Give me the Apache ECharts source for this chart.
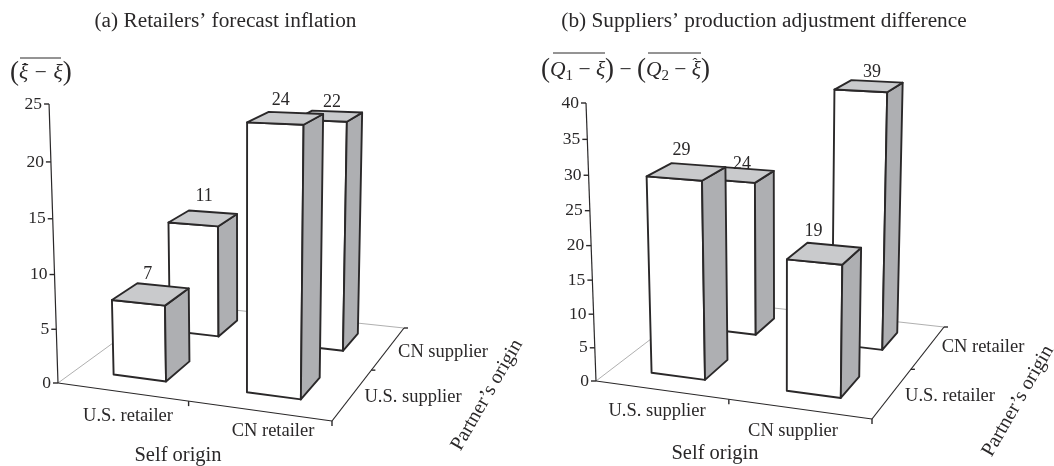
<!DOCTYPE html>
<html>
<head>
<meta charset="utf-8">
<script src="https://cdn.jsdelivr.net/npm/echarts@6/dist/echarts.min.js"></script>
<style>html,body{margin:0;background:#fff}#main{width:1054px;height:466px}</style>
</head>
<body>
<div id="main"></div>
<script>
// chart data (labels printed on the bars are rounded)
var selfA = ['U.S. retailer', 'CN retailer'];
var partnerA = ['U.S. supplier', 'CN supplier'];
var frontA = [7, 23.5];
var backA = [11, 21.6];
var ticksA = [0, 5, 10, 15, 20, 25];

var selfB = ['U.S. supplier', 'CN supplier'];
var partnerB = ['U.S. retailer', 'CN retailer'];
var frontB = [29, 19];
var backB = [24, 38.7];
var ticksB = [0, 5, 10, 15, 20, 25, 30, 35, 40];

var INK = '#2a2829', SERIF = '"Liberation Serif", serif';
var SIDE = '#aeafb2', TOP = '#c9cacc', FLOOR = '#b0b0b0';

// where the box sits on the page: floor corners, top of value axis, vanishing point of the verticals
var viewA = {
    a: [58, 383], b: [332, 421], c: [404, 328], d: [168, 303], top: [49, 104], vp: [244, 6183],
    selfPos: [128, 416], selfPos2: [273, 431], selfName: [178, 456],
    partnerPos: [[413, 397], [443, 352]], partnerName: [487, 395],
    nudge: [[[-1, 2], [-3, 4]], [[3, 0], [5, 8]]]   // bar label offsets: [partner][self]
};
var viewB = {
    a: [596, 381], b: [872, 419], c: [944, 327], d: [702, 300], top: [586, 103], vp: [783, 5581],
    selfPos: [657, 411], selfPos2: [793, 431], selfName: [715, 454],
    partnerPos: [[950, 396], [983, 347]], partnerName: [1018, 401],
    nudge: [[[-3, 0], [-9, 0]], [[5, 11], [5, 8]]]
};
// bar footprint on the floor, in axis units (two cells, 0..2)
var barX = [[0.30, 0.71], [1.315, 1.70]];
var barD = [[0.29, 0.73], [1.33, 1.75]];

function makeCamera(v) {
    var x0 = v.a[0], y0 = v.a[1], x1 = v.b[0], y1 = v.b[1], x2 = v.c[0], y2 = v.c[1], x3 = v.d[0], y3 = v.d[1];
    var sx = x0 - x1 + x2 - x3, sy = y0 - y1 + y2 - y3;
    var dx1 = x1 - x2, dx2 = x3 - x2, dy1 = y1 - y2, dy2 = y3 - y2;
    var den = dx1 * dy2 - dx2 * dy1;
    var g = (sx * dy2 - dx2 * sy) / den, h = (dx1 * sy - sx * dy1) / den;
    var a = x1 - x0 + g * x1, b = x3 - x0 + h * x3, d = y1 - y0 + g * y1, e = y3 - y0 + h * y3;
    var w = (v.top[1] - y0) / (v.vp[1] - v.top[1]);
    // u along self axis, t along partner axis, z up the value axis, all 0..1
    return function (u, t, z) {
        var W = g * u + h * t + 1 + w * z;
        return [
            (a * u + b * t + x0 + w * v.vp[0] * z) / W,
            (d * u + e * t + y0 + w * v.vp[1] * z) / W
        ];
    };
}

function scaler(params, api) {
    var r = params.coordSys;
    return {
        u: function (val) { return (api.coord([val, 0])[0] - r.x) / r.width; },
        z: function (val) { return (r.y + r.height - api.coord([0, val])[1]) / r.height; }
    };
}

function poly(points, fill) {
    return {
        type: 'polygon',
        shape: { points: points },
        style: { fill: fill, stroke: INK, lineWidth: 1.9, lineJoin: 'round' }
    };
}

function seg(p, q, color, lineWidth) {
    return {
        type: 'line',
        shape: { x1: p[0], y1: p[1], x2: q[0], y2: q[1] },
        style: { stroke: color, lineWidth: lineWidth }
    };
}

function txt(s, x, y, size, extra) {
    var t = {
        type: 'text', x: x, y: y,
        style: { text: s, font: size + 'px ' + SERIF, fill: INK, align: 'center', verticalAlign: 'middle' }
    };
    if (extra) { for (var k in extra) { if (k === 'rotation') { t.rotation = extra[k]; } else { t.style[k] = extra[k]; } } }
    return t;
}

function barSeries(idx, view, front, back) {
    var cam = makeCamera(view);
    var data = [];
    // back row first so the front row paints over it
    back.forEach(function (val, i) { data.push([i, 1, val]); });
    front.forEach(function (val, i) { data.push([i, 0, val]); });
    return {
        type: 'custom', xAxisIndex: idx, yAxisIndex: idx, z: 3, clip: false, silent: true,
        data: data,
        renderItem: function (params, api) {
            var s = scaler(params, api);
            var i = api.value(0), j = api.value(1), val = api.value(2);
            var x0 = s.u(barX[i][0]), x1 = s.u(barX[i][1]);
            var d0 = s.u(barD[j][0]), d1 = s.u(barD[j][1]);
            var top = s.z(val);
            var fl = cam(x0, d0, 0), fr = cam(x1, d0, 0), br = cam(x1, d1, 0);
            var tfl = cam(x0, d0, top), tfr = cam(x1, d0, top), tbr = cam(x1, d1, top), tbl = cam(x0, d1, top);
            var cx = (tfl[0] + tfr[0] + tbr[0] + tbl[0]) / 4, cy = (tfl[1] + tfr[1] + tbr[1] + tbl[1]) / 4;
            var n = view.nudge[j][i];
            return {
                type: 'group',
                children: [
                    poly([fl, fr, tfr, tfl], '#fff'),
                    poly([fr, br, tbr, tfr], SIDE),
                    poly([tfl, tfr, tbr, tbl], TOP),
                    txt(String(Math.round(val)), cx - 2 + n[0], cy - 22 + n[1], 18)
                ]
            };
        }
    };
}

function frameSeries(idx, view, selfNames, partnerNames, ticks) {
    var cam = makeCamera(view);
    return {
        type: 'custom', xAxisIndex: idx, yAxisIndex: idx, z: 2, clip: false, silent: true,
        data: [[0, 0]],
        renderItem: function (params, api) {
            var s = scaler(params, api);
            var kids = [];
            // floor edges hidden behind the bars
            kids.push(seg(cam(0, 0, 0), cam(0, 1, 0), FLOOR, 1));
            kids.push(seg(cam(0, 1, 0), cam(1, 1, 0), FLOOR, 1));
            // front edges and value axis
            kids.push(seg(cam(0, 0, 0), cam(1, 0, 0), INK, 1.2));
            kids.push(seg(cam(1, 0, 0), cam(1, 1, 0), INK, 1.2));
            kids.push(seg(cam(0, 0, 0), cam(0, 0, 1), INK, 1.2));
            ticks.forEach(function (t) {
                var p = cam(0, 0, s.z(t));
                kids.push(seg([p[0] - 5, p[1]], p, INK, 1.4));
                kids.push(txt(String(t), p[0] - 7, p[1], 17.5, { align: 'right' }));
            });
            [1, 2].forEach(function (k) {
                var p = cam(s.u(k), 0, 0);
                kids.push(seg(p, [p[0], p[1] + 5], INK, 1.4));
                var q = cam(1, s.u(k), 0);
                kids.push(seg(q, [q[0] + 4, q[1]], INK, 1.4));
            });
            kids.push(txt(selfNames[0], view.selfPos[0], view.selfPos[1], 18.5));
            kids.push(txt(selfNames[1], view.selfPos2[0], view.selfPos2[1], 18.5));
            partnerNames.forEach(function (n, i) {
                kids.push(txt(n, view.partnerPos[i][0], view.partnerPos[i][1], 18.5));
            });
            kids.push(txt('Self origin', view.selfName[0], view.selfName[1], 20.5));
            kids.push(txt('Partner’s origin', view.partnerName[0], view.partnerName[1], 20, { rotation: 60 * Math.PI / 180 }));
            return { type: 'group', children: kids };
        }
    };
}

function hiddenAxis(grid, max) {
    return { type: 'value', gridIndex: grid, min: 0, max: max, show: false };
}

var mathRich = {
    p: { font: '300 27px ' + SERIF, fill: INK },
    i: { font: 'italic 21.5px ' + SERIF, fill: INK },
    m: { font: '21.5px ' + SERIF, fill: INK },
    s: { font: '15px ' + SERIF, fill: INK, verticalAlign: 'bottom', padding: [8, 0, 0, 0] }
};

var option = {
    animation: false,
    backgroundColor: '#fff',
    title: [
        { text: '(a) Retailers’ forecast inflation', left: 220.5, top: 6, textAlign: 'center',
          textStyle: { fontFamily: SERIF, fontSize: 21.3, fontWeight: 'normal', color: INK } },
        { text: '(b) Suppliers’ production adjustment difference', left: 759, top: 6, textAlign: 'center',
          textStyle: { fontFamily: SERIF, fontSize: 21.3, fontWeight: 'normal', color: INK } }
    ],
    grid: [
        { left: 58, top: 104, width: 274, height: 279 },
        { left: 596, top: 103, width: 276, height: 278 }
    ],
    xAxis: [hiddenAxis(0, 2), hiddenAxis(1, 2)],
    yAxis: [hiddenAxis(0, 25), hiddenAxis(1, 40)],
    series: [
        frameSeries(0, viewA, selfA, partnerA, ticksA),
        barSeries(0, viewA, frontA, backA),
        frameSeries(1, viewB, selfB, partnerB, ticksB),
        barSeries(1, viewB, frontB, backB)
    ],
    graphic: [
        { type: 'text', x: 10, y: 73, style: { text: '{p|(}{i|ξ − ξ}{p|)}', rich: mathRich, verticalAlign: 'middle' } },
        { type: 'text', x: 25, y: 69, style: { text: 'ˆ', font: '15px ' + SERIF, fill: INK, align: 'center', verticalAlign: 'middle' } },
        { type: 'line', shape: { x1: 20, y1: 58, x2: 61, y2: 58 }, style: { stroke: INK, lineWidth: 1 } },
        { type: 'text', x: 541, y: 70, style: { text: '{p|(}{i|Q}{s|1}{m| − }{i|ξ}{p|)}{m| − }{p|(}{i|Q}{s|2}{m| − }{i|ξ}{p|)}', rich: mathRich, verticalAlign: 'middle' } },
        { type: 'text', x: 695, y: 64, style: { text: 'ˆ', font: '15px ' + SERIF, fill: INK, align: 'center', verticalAlign: 'middle' } },
        { type: 'line', shape: { x1: 553, y1: 53, x2: 605, y2: 53 }, style: { stroke: INK, lineWidth: 1 } },
        { type: 'line', shape: { x1: 648, y1: 53, x2: 701, y2: 53 }, style: { stroke: INK, lineWidth: 1 } }
    ]
};
echarts.init(document.getElementById('main')).setOption(option);
</script>
</body>
</html>
